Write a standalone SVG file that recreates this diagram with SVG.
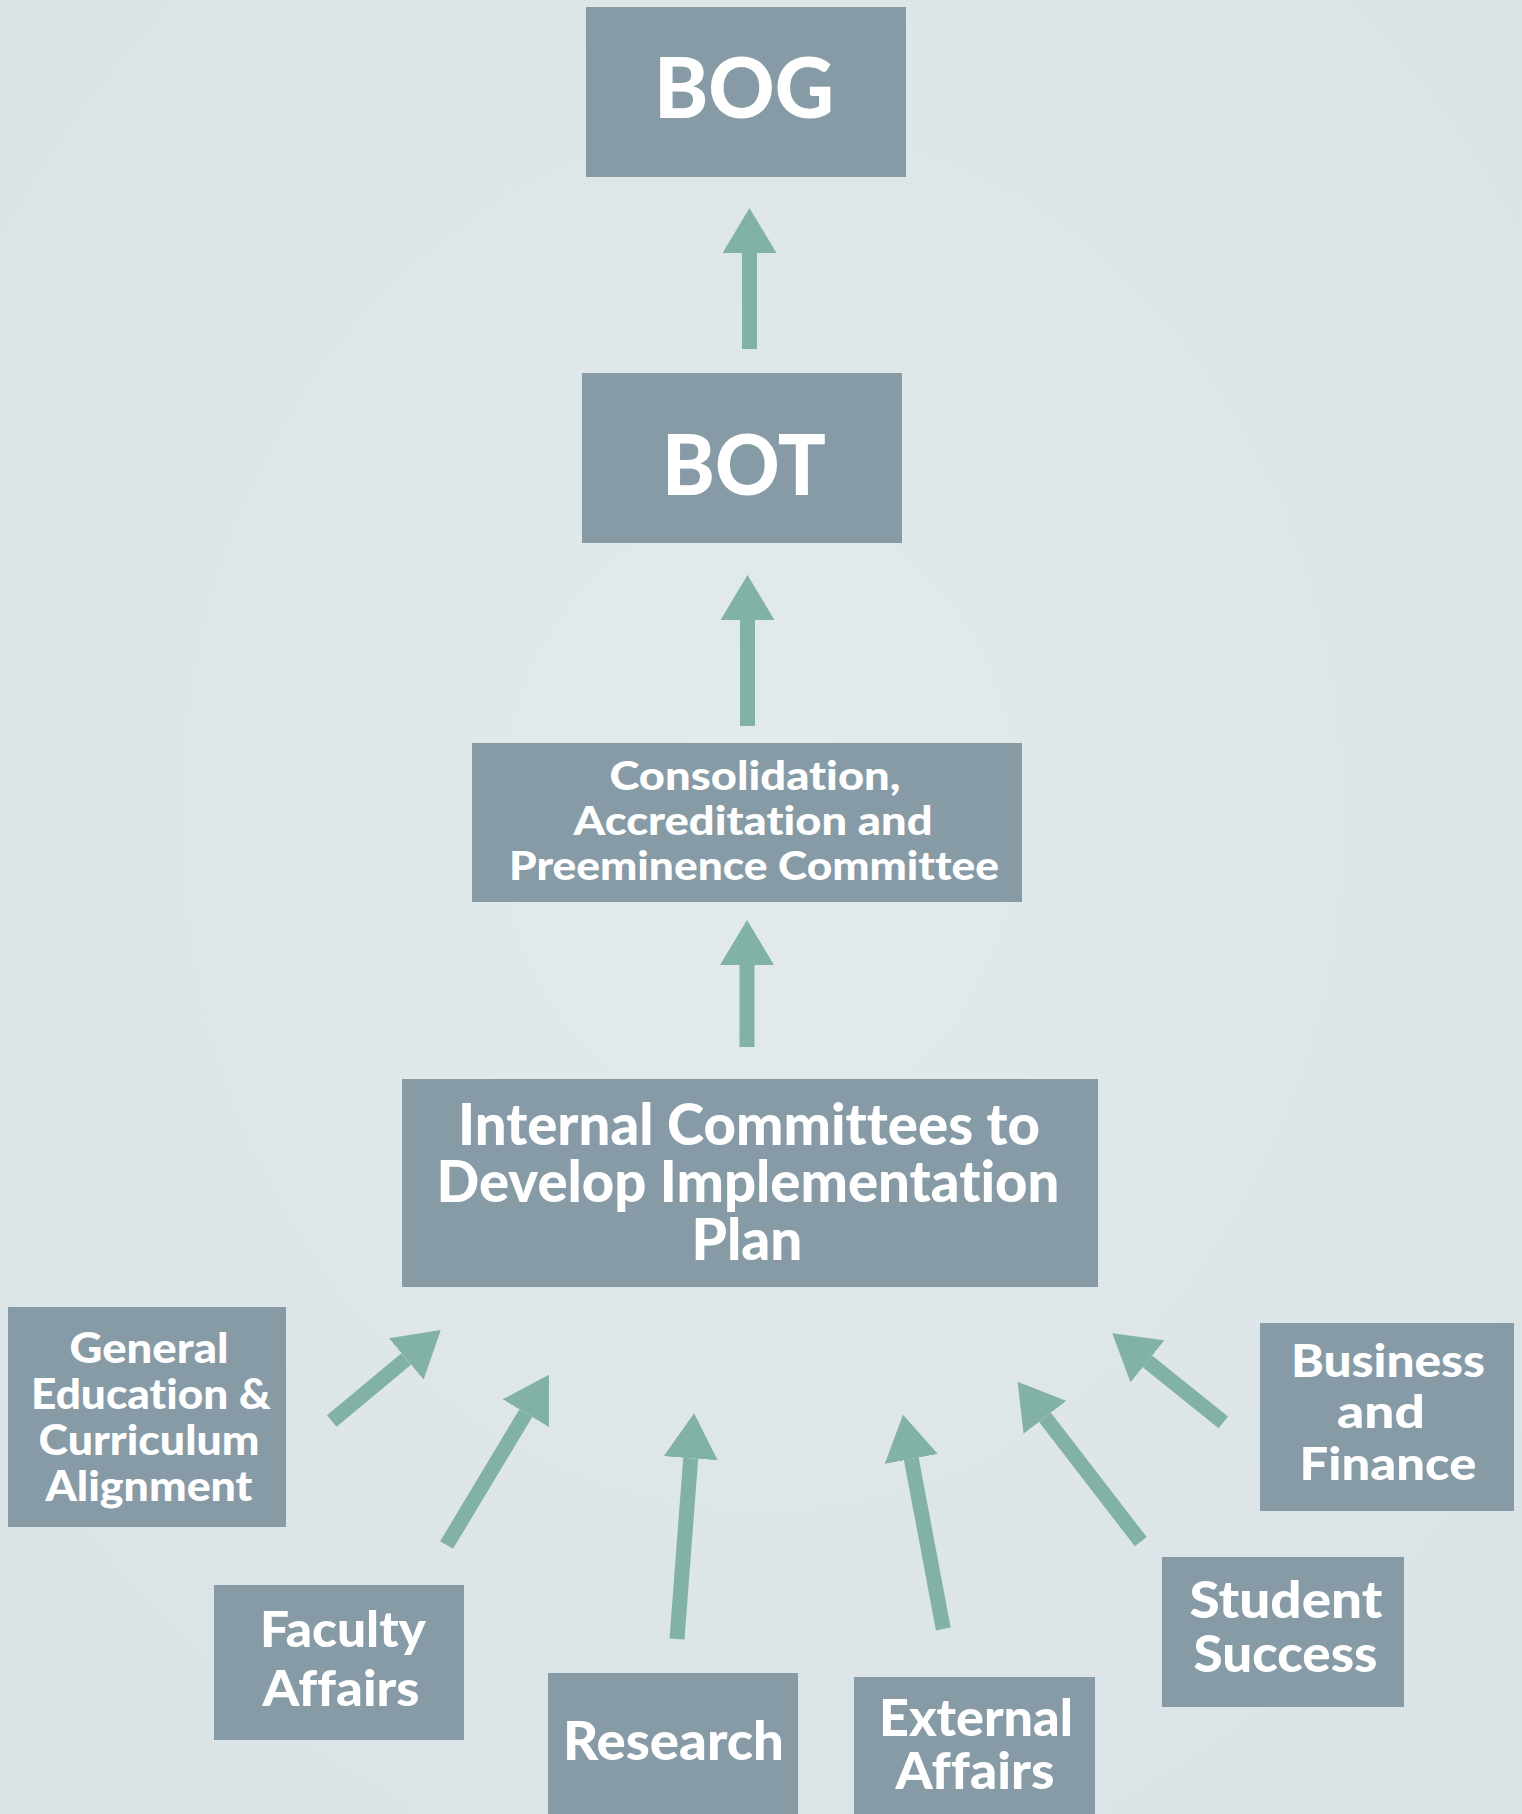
<svg xmlns="http://www.w3.org/2000/svg" width="1522" height="1814" viewBox="0 0 1522 1814">
  <defs>
    <radialGradient id="bg" cx="0.5" cy="0.45" r="0.75">
      <stop offset="0" stop-color="#e3eaec"/>
      <stop offset="1" stop-color="#d9e2e5"/>
    </radialGradient>
    <marker id="ah" markerUnits="strokeWidth" markerWidth="3" markerHeight="3.6" refX="0" refY="1.8" orient="auto" viewBox="0 0 3 3.6">
      <path d="M0,0 L3,1.8 L0,3.6 Z" fill="#82b2a6"/>
    </marker>
    <style>
      .box { fill: #879ba6; }
      .t { fill: #ffffff; font-family: Lato, "Liberation Sans", sans-serif; font-weight: 900; text-anchor: middle; font-variant-ligatures: none; }
      .arrow { stroke: #82b2a6; stroke-width: 15; fill: none; marker-end: url(#ah); }
    </style>
  </defs>
  <rect x="0" y="0" width="1522" height="1814" fill="url(#bg)"/>

  <g id="connectors">
    <line class="arrow" x1="749.5" y1="349" x2="749.5" y2="253"/>
    <line class="arrow" x1="747.5" y1="726" x2="747.5" y2="620"/>
    <line class="arrow" x1="747" y1="1047" x2="747" y2="965"/>
    <line class="arrow" x1="331.8" y1="1421" x2="406.2" y2="1358.9"/>
    <line class="arrow" x1="446.6" y1="1545" x2="525.8" y2="1413.2"/>
    <line class="arrow" x1="677" y1="1639" x2="690.7" y2="1458.2"/>
    <line class="arrow" x1="943.3" y1="1629" x2="911.3" y2="1458.9"/>
    <line class="arrow" x1="1140.8" y1="1541.7" x2="1045" y2="1417.3"/>
    <line class="arrow" x1="1223.3" y1="1422.3" x2="1147.4" y2="1361.4"/>
  </g>

  <g id="bog">
    <rect class="box" x="586" y="7" width="320" height="170"/>
    <text class="t" x="744" y="118" font-size="83" textLength="180" lengthAdjust="spacingAndGlyphs">BOG</text>
  </g>

  <g id="bot">
    <rect class="box" x="582" y="373" width="320" height="170"/>
    <text class="t" x="744" y="495" font-size="83" textLength="164" lengthAdjust="spacingAndGlyphs">BOT</text>
  </g>

  <g id="consolidation">
    <rect class="box" x="472" y="743" width="550" height="159"/>
    <text class="t" x="755" y="790" font-size="39" textLength="291" lengthAdjust="spacingAndGlyphs">Consolidation,</text>
    <text class="t" x="753" y="835" font-size="39" textLength="359" lengthAdjust="spacingAndGlyphs">Accreditation and</text>
    <text class="t" x="754" y="880" font-size="39" textLength="490" lengthAdjust="spacingAndGlyphs">Preeminence Committee</text>
  </g>

  <g id="internal">
    <rect class="box" x="402" y="1079" width="696" height="208"/>
    <text class="t" x="749" y="1145" font-size="57" textLength="582" lengthAdjust="spacingAndGlyphs">Internal Committees to</text>
    <text class="t" x="748" y="1202" font-size="57" textLength="623" lengthAdjust="spacingAndGlyphs">Develop Implementation</text>
    <text class="t" x="747" y="1260" font-size="57" textLength="111" lengthAdjust="spacingAndGlyphs">Plan</text>
  </g>

  <g id="general-education">
    <rect class="box" x="8" y="1307" width="278" height="220"/>
    <text class="t" x="149" y="1363" font-size="42" textLength="159" lengthAdjust="spacingAndGlyphs">General</text>
    <text class="t" x="151" y="1409" font-size="42" textLength="240" lengthAdjust="spacingAndGlyphs">Education &amp;</text>
    <text class="t" x="149" y="1455" font-size="42" textLength="221" lengthAdjust="spacingAndGlyphs">Curriculum</text>
    <text class="t" x="149" y="1501" font-size="42" textLength="207" lengthAdjust="spacingAndGlyphs">Alignment</text>
  </g>

  <g id="faculty-affairs">
    <rect class="box" x="214" y="1585" width="250" height="155"/>
    <text class="t" x="343" y="1647" font-size="50" textLength="166" lengthAdjust="spacingAndGlyphs">Faculty</text>
    <text class="t" x="341" y="1706" font-size="50" textLength="157" lengthAdjust="spacingAndGlyphs">Affairs</text>
  </g>

  <g id="research">
    <rect class="box" x="548" y="1673" width="250" height="141"/>
    <text class="t" x="673.5" y="1760" font-size="54" textLength="221" lengthAdjust="spacingAndGlyphs">Research</text>
  </g>

  <g id="external-affairs">
    <rect class="box" x="854" y="1677" width="241" height="137"/>
    <text class="t" x="976" y="1736" font-size="51" textLength="194" lengthAdjust="spacingAndGlyphs">External</text>
    <text class="t" x="975" y="1789" font-size="51" textLength="159" lengthAdjust="spacingAndGlyphs">Affairs</text>
  </g>

  <g id="student-success">
    <rect class="box" x="1162" y="1557" width="242" height="150"/>
    <text class="t" x="1286" y="1618" font-size="51" textLength="193" lengthAdjust="spacingAndGlyphs">Student</text>
    <text class="t" x="1285.5" y="1672" font-size="51" textLength="184" lengthAdjust="spacingAndGlyphs">Success</text>
  </g>

  <g id="business-finance">
    <rect class="box" x="1260" y="1323" width="254" height="188"/>
    <text class="t" x="1388" y="1377" font-size="46" textLength="194" lengthAdjust="spacingAndGlyphs">Business</text>
    <text class="t" x="1381" y="1428" font-size="46" textLength="88" lengthAdjust="spacingAndGlyphs">and</text>
    <text class="t" x="1388" y="1480" font-size="46" textLength="177" lengthAdjust="spacingAndGlyphs">Finance</text>
  </g>
</svg>
